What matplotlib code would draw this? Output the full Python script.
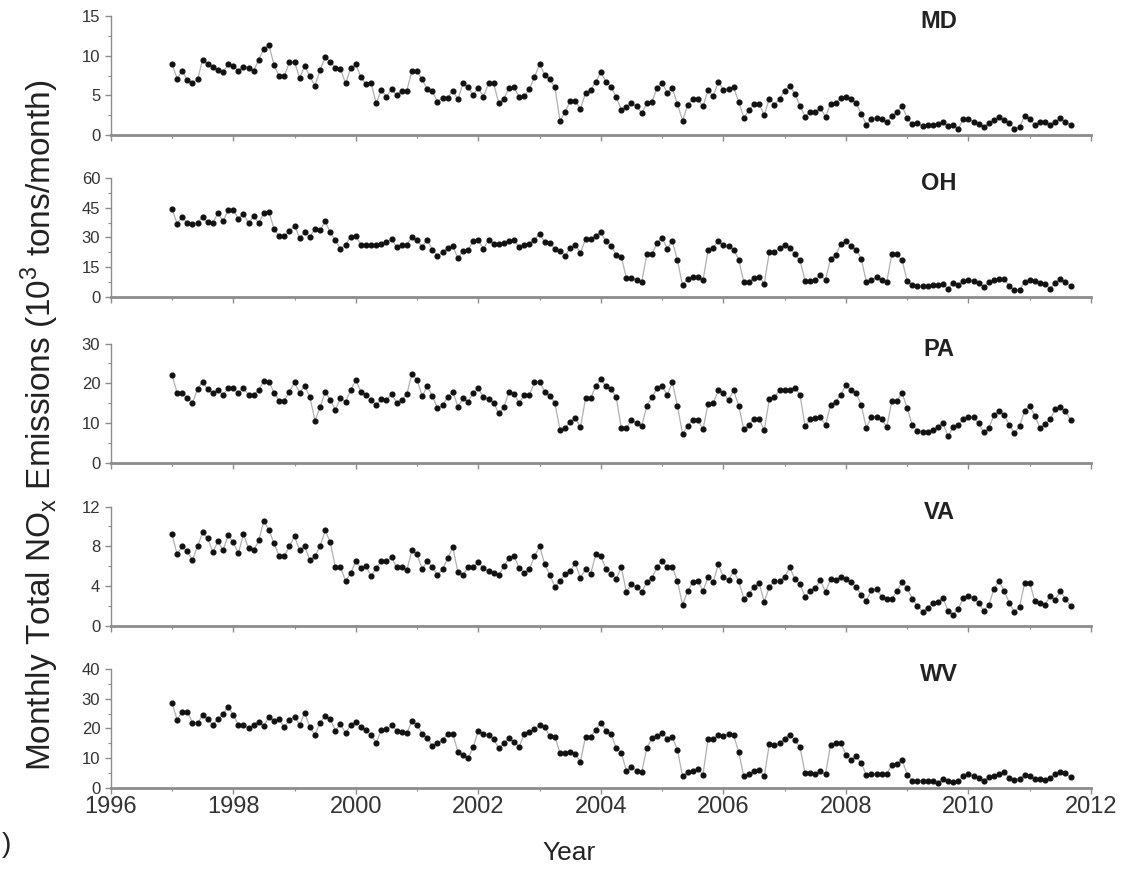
import numpy as np
import matplotlib
matplotlib.use("Agg")
import matplotlib.pyplot as plt
from matplotlib.ticker import MultipleLocator

plt.rcParams['font.family'] = ['Liberation Sans', 'DejaVu Sans']

# monthly totals, Jan 1997 - Sep 2011 (10^3 tons/month)
start_year = 1997

md = [9.0, 7.1, 8.1, 6.9, 6.6, 7.0, 9.5, 8.9, 8.6, 8.2, 7.9, 8.9,
      8.7, 8.1, 8.6, 8.5, 8.1, 9.5, 10.9, 11.3, 8.8, 7.4, 7.4, 9.2,
      9.2, 7.2, 8.7, 7.4, 6.2, 8.2, 9.8, 9.2, 8.5, 8.3, 6.5, 8.4,
      8.9, 7.3, 6.4, 6.5, 4.0, 5.7, 4.8, 5.8, 5.0, 5.6, 5.6, 8.1,
      8.1, 7.0, 5.8, 5.5, 4.2, 4.7, 4.7, 5.6, 4.5, 6.5, 6.0, 5.1,
      5.9, 4.8, 6.5, 6.5, 4.0, 4.6, 5.9, 6.0, 4.8, 4.9, 5.8, 7.3,
      8.9, 7.6, 7.0, 6.0, 1.8, 2.9, 4.3, 4.3, 3.3, 5.3, 5.7, 6.7,
      7.9, 6.7, 6.1, 4.8, 3.2, 3.5, 4.0,
      3.6, 2.8, 4.0, 4.2, 5.9, 6.6, 5.3, 5.9, 3.9, 1.8,
      3.8, 4.5, 4.5, 3.6, 5.7, 4.9, 6.7, 5.7, 5.8, 6.0,
      4.2, 2.2, 3.1, 3.9, 3.9, 2.5, 4.6, 3.8, 4.6, 5.6,
      6.2, 5.2, 3.7, 2.3, 2.9, 2.9, 3.4, 2.3, 3.9, 4.0,
      4.7, 4.8, 4.6, 4.0, 2.7, 1.3, 2.0, 2.2, 2.0, 1.6,
      2.4, 2.9, 3.7, 2.1, 1.4, 1.5, 1.1, 1.3, 1.3, 1.4,
      1.6, 1.1, 1.3, 0.8, 2.0, 2.0, 1.7, 1.4, 1.0, 1.5,
      1.9, 2.3, 1.9, 1.5, 0.8, 1.0, 2.4, 2.0, 1.3, 1.7,
      1.6, 1.3, 1.6, 2.1, 1.6, 1.3]

oh = [44.4, 37, 40.3, 37.3, 37, 37.3, 40.3, 37.6, 37.3, 42.4, 38.2, 43.7,
      44, 39.3, 42, 37.3, 40.7, 37.3, 42.4, 42.7, 34.3, 30.6, 30.6, 33.1,
      36, 29.7, 32.6, 30.3, 34.3, 33.6, 38.2, 32.6, 28.6, 24.2, 26.4, 30.3,
      30.6, 26.4, 26.4, 26.4, 26.4, 26.9, 27.6, 29.2, 25.2, 26.4, 26.4, 30.3,
      28.6, 25.2, 28.9, 23.9, 20.8, 22.5, 24.7, 25.5, 19.7, 23, 23.9, 28.1,
      28.6, 24.2, 28.9, 26.9, 26.9, 27.2, 28.1, 28.6, 25.2, 26.4, 26.9, 28.9,
      31.9, 27.6, 27.2, 24.2, 23, 20.8, 24.7, 26.4, 22.2, 29.2, 29.2, 30.9,
      32.6, 28.1, 25.9, 21.3, 20.2, 9.6, 9.6,
      8.4, 7.6, 21.5, 21.5, 27.2, 29.9, 24.4, 28.2, 18.5, 5.9,
      9.2, 10.1, 10.1, 8.4, 23.5, 24.9, 28.2, 26.1, 25.5, 23.9,
      18.8, 7.6, 7.6, 9.7, 10.1, 6.7, 22.7, 22.7, 24.9, 26.1,
      24.9, 21.5, 18.5, 8.1, 8.1, 8.7, 10.9, 8.7, 19.3, 21,
      26.9, 28.2, 25.5, 23.9, 19.3, 7.6, 8.7, 10.1, 8.7, 7.6,
      21.8, 21.5, 18.5, 8.1, 5.9, 5.4, 5.4, 5.4, 5.9, 5.9,
      6.4, 4.2, 7.1, 5.9, 8.1, 8.4, 8.1, 7.1, 5.0, 7.6,
      8.7, 9.2, 9.2, 5.4, 3.4, 3.7, 7.6, 8.4, 8.1, 7.1,
      6.4, 4.2, 7.1, 9.2, 7.6, 5.4]

pa = [22.1, 17.6, 17.6, 16.2, 15.1, 18.5, 20.4, 18.5, 17.5, 18.3, 17.1, 18.7,
      18.7, 17.5, 18.7, 17.1, 17.1, 18.3, 20.7, 20.4, 17.6, 15.6, 15.6, 17.9,
      20.2, 17.6, 19.3, 16.6, 10.6, 13.9, 17.9, 15.8, 13.3, 16.2, 15.4, 18.3,
      20.8, 17.9, 17.1, 15.8, 14.5, 16, 15.8, 17.3, 15.1, 15.8, 17.3, 22.4,
      20.8, 16.8, 19.2, 16.8, 13.7, 14.5, 16.5, 17.9, 14.1, 16.2, 15.4, 17.5,
      18.7, 16.5, 16, 15.1, 12.4, 13.9, 17.9, 17.3, 15, 17.1, 17.1, 20.2,
      20.4, 17.9, 16.8, 15, 8.2, 8.7, 10.3, 11.2, 8.9, 16.2, 16.2, 19.3,
      21, 19.2, 18.5, 16.5, 8.7, 8.7, 10.8,
      9.9, 9.2, 14.3, 16.5, 18.7, 19.2, 17.1, 20.2, 14.3, 7.2,
      9.2, 10.8, 10.8, 8.4, 14.8, 15, 18.2, 17.6, 15.8, 18.2,
      14.3, 8.4, 9.5, 10.9, 10.9, 8.2, 16, 16.5, 18.3, 18.2,
      18.3, 18.9, 17.1, 9.2, 10.9, 11.2, 11.4, 9.5, 14.5, 15.4,
      17.1, 19.6, 18.3, 17.6, 14.5, 8.7, 11.6, 11.6, 10.9, 9.1,
      15.5, 15.6, 17.6, 13.7, 9.5, 8.1, 7.8, 7.6, 8.2, 9.1,
      9.9, 6.7, 8.9, 9.5, 10.9, 11.6, 11.4, 9.9, 7.6, 8.7,
      12, 13.1, 12, 9.5, 7.4, 9.2, 13.1, 14.3, 11.8, 8.7,
      9.7, 10.9, 13.4, 13.9, 12.9, 10.8]

va = [9.2, 7.2, 8.0, 7.5, 6.6, 8.0, 9.4, 8.8, 7.4, 8.5, 7.6, 9.1,
      8.4, 7.3, 9.2, 7.8, 7.6, 8.6, 10.6, 9.6, 8.3, 7.0, 7.0, 8.0,
      9.0, 7.6, 8.0, 6.6, 7.0, 8.0, 9.6, 8.4, 5.9, 5.9, 4.5, 5.3,
      6.5, 5.8, 6.0, 5.0, 5.8, 6.5, 6.5, 6.9, 5.9, 5.9, 5.6, 7.6,
      7.2, 5.7, 6.5, 5.9, 5.1, 5.7, 6.8, 7.9, 5.4, 5.1, 5.9, 5.9,
      6.4, 5.8, 5.5, 5.3, 5.1, 6.0, 6.8, 7.0, 5.8, 5.3, 5.7, 7.0,
      8.0, 6.2, 5.1, 3.9, 4.5, 5.2, 5.5, 6.3, 4.8, 5.7, 5.2, 7.2,
      7.0, 5.7, 5.2, 4.7, 5.9, 3.4, 4.2,
      3.9, 3.4, 4.4, 4.8, 5.9, 6.5, 5.9, 5.9, 4.5, 2.1,
      3.5, 4.4, 4.5, 3.5, 4.9, 4.4, 6.2, 4.9, 4.6, 5.5,
      4.5, 2.7, 3.2, 3.9, 4.3, 2.4, 3.9, 4.5, 4.5, 4.9,
      5.9, 4.7, 4.2, 2.9, 3.5, 3.8, 4.6, 3.4, 4.7, 4.6,
      4.9, 4.7, 4.4, 3.9, 3.1, 2.5, 3.6, 3.7, 2.9, 2.7,
      2.7, 3.5, 4.4, 3.8, 2.7, 2.0, 1.4, 1.8, 2.3, 2.4,
      2.8, 1.5, 1.1, 1.7, 2.8, 3.0, 2.8, 2.3, 1.5, 2.1,
      3.7, 4.5, 3.5, 2.3, 1.4, 1.9, 4.3, 4.3, 2.5, 2.3,
      2.1, 3.0, 2.6, 3.5, 2.7, 2.0]

wv = [28.7, 22.9, 25.7, 25.7, 22, 21.7, 24.5, 23.1, 21.2, 23.1, 24.9, 27.3,
      24.5, 21.2, 21.2, 20.1, 21.2, 22.3, 20.8, 24, 22.6, 23.1, 20.4, 22.9,
      24, 21.2, 25.3, 20.4, 17.8, 22, 24.2, 23.1, 19.3, 21.5, 18.4, 21.2,
      22.3, 20.6, 19.5, 17.8, 15.2, 19.5, 19.7, 21.2, 19.3, 18.9, 18.4, 22.6,
      21.2, 18.2, 16.7, 14.1, 15, 16.1, 18.2, 18.2, 12.2, 11.1, 10, 13.7,
      19.3, 18.2, 17.8, 16.4, 13.3, 15, 16.7, 15.6, 13.9, 18.2, 18.9, 19.7,
      21.2, 20.4, 17.5, 17.3, 11.7, 11.7, 12.2, 11.4, 8.9, 17.3, 17.3, 19.5,
      22, 19.3, 18.2, 13.3, 11.9, 5.8, 7.2,
      5.8, 5.4, 13.4, 16.8, 17.4, 18.5, 16.6, 17, 12.9, 3.9,
      5.4, 5.8, 6.5, 4.5, 16.6, 16.6, 17.7, 17.4, 18.2, 17.7,
      12.1, 3.9, 4.7, 5.6, 6.2, 3.9, 14.8, 14.3, 15.1, 16.6,
      17.9, 16.2, 13.7, 5, 5, 4.7, 5.6, 4.7, 14.6, 15.1,
      15.1, 11.2, 9.5, 10.6, 8.4, 4.3, 4.7, 4.7, 4.7, 4.7,
      7.8, 8.1, 9.5, 4.5, 2.5, 2.5, 2.5, 2.5, 2.2, 1.7,
      3.1, 2.2, 2.0, 2.2, 3.9, 4.7, 3.9, 3.4, 2.5, 3.6,
      3.9, 4.7, 5.4, 3.4, 2.8, 3.1, 4.3, 3.9, 3.1, 3.1,
      2.8, 3.4, 4.7, 5.4, 5.0, 3.6]

states = ["MD", "OH", "PA", "VA", "WV"]
series = [md, oh, pa, va, wv]
ymax = [15, 60, 30, 12, 40]
ystep = [5, 15, 10, 4, 10]

fig = plt.figure(figsize=(11.38, 8.69), dpi=100)

left, width = 0.0973, 0.8614
bottoms = [0.8446, 0.6582, 0.4676, 0.2800, 0.0932]
height = 0.137
axis_grey = "#8c8c8c"

for k, (name, vals) in enumerate(zip(states, series)):
    ax = fig.add_axes([left, bottoms[k], width, height])
    vals = np.array(vals)
    t = start_year + np.arange(len(vals)) / 12.0
    ax.plot(t, vals, color="#b0b0b0", lw=0.9, zorder=1)
    ax.plot(t, vals, ls="none", marker="o", ms=3.4, color="#111111", zorder=2)

    ax.set_xlim(1996, 2012)
    ax.set_ylim(0, ymax[k])
    ax.xaxis.set_major_locator(MultipleLocator(2))
    ax.xaxis.set_minor_locator(MultipleLocator(1))
    ax.yaxis.set_major_locator(MultipleLocator(ystep[k]))
    ax.yaxis.set_minor_locator(MultipleLocator(ystep[k] / 2))

    for s in ["top", "right"]:
        ax.spines[s].set_visible(False)
    ax.spines["left"].set_color(axis_grey)
    ax.spines["left"].set_linewidth(1.0)
    ax.spines["bottom"].set_color(axis_grey)
    ax.spines["bottom"].set_linewidth(2.0)

    ax.tick_params(which="major", direction="out", length=4, width=1,
                   color=axis_grey, labelsize=12, labelcolor="#333333")
    ax.tick_params(which="minor", direction="out", length=2.5, width=0.8,
                   color=axis_grey)
    if k < len(states) - 1:
        ax.tick_params(axis="x", labelbottom=False)
    else:
        ax.tick_params(axis="x", labelsize=17, labelcolor="#333333", pad=2)

    ax.text(0.845, 0.95, name, transform=ax.transAxes, ha="center",
            va="center", fontsize=17, fontweight="bold", color="#222222")

fig.text(0.035, 0.51,
         r"Monthly Total NO$_\mathregular{x}$ Emissions (10$^\mathregular{3}$ tons/month)",
         rotation=90, ha="center", va="center", fontsize=24, color="#222222")
fig.text(0.5, 0.018, "Year", ha="center", va="center", fontsize=19,
         color="#222222")
fig.text(0.002, 0.028, ")", ha="left", va="center", fontsize=20,
         color="#222222")

plt.savefig("out.png", dpi=100)
plt.close()
